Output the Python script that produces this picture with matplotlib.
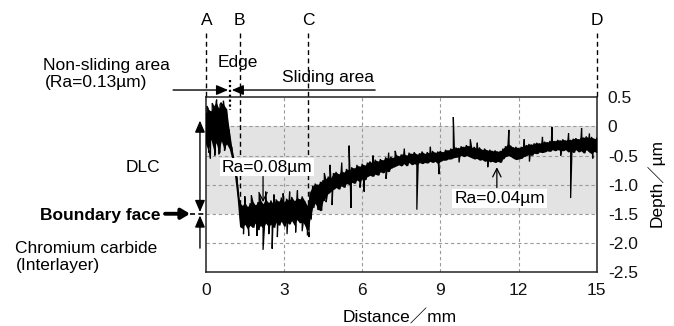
import numpy as np
import matplotlib
matplotlib.use("Agg")
import matplotlib.pyplot as plt

plt.rcParams['font.family'] = ['Liberation Sans', 'Noto Sans CJK JP', 'DejaVu Sans']
FS = 12.5

# ---------------- data ----------------
# sampling positions of the profile envelope, mm
dist_mm = np.round(np.arange(0, 15.0001, 0.1), 1)

# upper edge of the measured profile band, um
upper_um = [
    0.22, 0.30, 0.26, 0.35, 0.42, 0.31, 0.41, 0.37, 0.30, -0.05,
    -0.35, -0.60, -0.88, -1.30, -1.36, -1.30, -1.38, -1.32, -1.28, -1.35,
    -1.30, -1.26, -1.33, -1.24, -1.31, -1.27, -1.34, -1.25, -1.29, -1.22,
    -1.30, -1.24, -1.27, -1.21, -1.28, -1.22, -1.25, -1.20, -1.28, -1.36,
    -1.12, -1.02, -0.98, -1.00, -0.95, -0.92, -0.90, -0.86, -0.88, -0.80,
    -0.78, -0.82, -0.76, -0.79, -0.73, -0.75, -0.70, -0.72, -0.66, -0.69,
    -0.64, -0.67, -0.62, -0.60, -0.63, -0.57, -0.60, -0.56, -0.58, -0.53,
    -0.55, -0.52, -0.54, -0.48, -0.51, -0.48, -0.46, -0.50, -0.45, -0.47,
    -0.44, -0.48, -0.46, -0.43, -0.47, -0.44, -0.46, -0.42, -0.45, -0.43,
    -0.42, -0.44, -0.40, -0.41, -0.38, -0.38, -0.36, -0.37, -0.34, -0.35,
    -0.32, -0.34, -0.36, -0.35, -0.38, -0.36, -0.40, -0.38, -0.41, -0.40,
    -0.42, -0.41, -0.43, -0.42, -0.38, -0.34, -0.30, -0.33, -0.36, -0.35,
    -0.37, -0.35, -0.33, -0.32, -0.30, -0.31, -0.29, -0.28, -0.29, -0.27,
    -0.26, -0.27, -0.25, -0.24, -0.25, -0.23, -0.24, -0.22, -0.24, -0.22,
    -0.23, -0.21, -0.20, -0.22, -0.18, -0.19, -0.17, -0.20, -0.18, -0.21,
    -0.20,
]
# lower edge of the measured profile band, um
lower_um = [
    -0.30, -0.42, -0.22, -0.40, -0.28, -0.44, -0.25, -0.38, -0.30, -0.38,
    -0.55, -0.82, -1.20, -1.72, -1.75, -1.68, -1.76, -1.70, -1.74, -1.66,
    -1.78, -1.70, -1.75, -1.66, -1.72, -1.68, -1.74, -1.65, -1.70, -1.63,
    -1.72, -1.64, -1.68, -1.62, -1.70, -1.60, -1.66, -1.62, -1.70, -1.82,
    -1.60, -1.40, -1.32, -1.42, -1.45, -1.28, -1.22, -1.15, -1.12, -1.08,
    -1.05, -1.08, -1.02, -1.05, -0.98, -1.00, -0.96, -0.98, -0.92, -0.95,
    -0.90, -0.92, -0.86, -0.84, -0.86, -0.82, -0.84, -0.78, -0.80, -0.76,
    -0.78, -0.72, -0.70, -0.68, -0.66, -0.68, -0.64, -0.68, -0.62, -0.66,
    -0.64, -0.66, -0.62, -0.64, -0.62, -0.63, -0.60, -0.62, -0.60, -0.64,
    -0.60, -0.58, -0.58, -0.56, -0.56, -0.54, -0.53, -0.52, -0.50, -0.52,
    -0.50, -0.52, -0.54, -0.56, -0.55, -0.58, -0.57, -0.60, -0.58, -0.61,
    -0.60, -0.62, -0.60, -0.62, -0.56, -0.52, -0.50, -0.52, -0.55, -0.57,
    -0.56, -0.55, -0.52, -0.50, -0.48, -0.50, -0.46, -0.47, -0.44, -0.45,
    -0.44, -0.42, -0.43, -0.40, -0.42, -0.40, -0.41, -0.42, -0.40, -0.44,
    -0.42, -0.45, -0.40, -0.44, -0.42, -0.46, -0.40, -0.44, -0.47, -0.43,
    -0.45,
]

# isolated spikes of the profile: position (mm) and tip depth (um)
spike_mm = [0.18, 0.35, 1.97, 2.20, 2.30, 2.55, 2.97, 3.70, 3.90, 3.96,
            4.30, 4.77, 4.85, 5.50, 5.57, 6.08, 7.27, 8.10, 8.95, 9.50,
            10.15, 11.63, 13.28, 14.00, 14.42,
            0.05, 0.25, 0.42, 0.55, 0.68, 0.12, 0.50, 0.72,
            1.50, 1.75, 2.05, 2.62, 3.22, 3.52, 1.45, 1.65, 2.42, 2.75, 3.12, 3.45,
            4.55, 5.22, 6.42, 7.02, 7.62, 8.62, 10.42, 12.22, 12.92, 13.92, 14.72,
            4.62, 5.92, 6.92, 9.72, 10.82, 12.42, 13.62, 14.85]
spike_um = [-0.55, -0.50, -1.88, -2.12, -1.12, -2.10, -1.15, -1.80, -1.87, -1.90,
            -1.43, -0.66, -1.35, -0.33, -1.40, -1.12, -0.42, -1.43, -0.82, 0.16,
            -0.22, -0.06, -0.01, -1.23, -0.03,
            0.35, 0.40, 0.46, 0.38, 0.44, -0.45, -0.48, -0.42,
            -1.20, -1.18, -1.15, -1.17, -1.12, -1.10, -1.85, -1.88, -1.85, -1.90, -1.85, -1.82,
            -0.80, -0.62, -0.50, -0.45, -0.38, -0.35, -0.28, -0.22, -0.18, -0.12, -0.12,
            -1.30, -1.05, -0.90, -0.62, -0.70, -0.60, -0.50, -0.55]

x_ticks = [0, 3, 6, 9, 12, 15]
y_ticks = [0.5, 0, -0.5, -1.0, -1.5, -2.0, -2.5]
y_tick_labels = ['0.5', '0', '-0.5', '-1.0', '-1.5', '-2.0', '-2.5']

marker_names = ['A', 'B', 'C', 'D']
marker_mm = [0.0, 1.3, 3.93, 15.0]
marker_end_um = [0.5, -1.47, -1.86, 0.5]

edge_mm = 0.94
dlc_top_um = 0.1
boundary_um = -1.5
interlayer_bottom_um = -2.09
dlc_band = (0.0, -1.5)

# ---------------- figure ----------------
W, H = 674, 326
fig = plt.figure(figsize=(W / 100, H / 100), dpi=100)
x0, x1, y0, y1 = 205.7, 596.7, 97.3, 272.0
ax = fig.add_axes([x0 / W, 1 - y1 / H, (x1 - x0) / W, (y1 - y0) / H])
ax.set_xlim(0, 15)
ax.set_ylim(-2.5, 0.5)


def fpx(x, y):
    return x / W, 1 - y / H


# gray DLC band
ax.axhspan(dlc_band[1], dlc_band[0], color='#e3e3e3', zorder=0, lw=0)

# grid
for gx in x_ticks[1:-1]:
    ax.axvline(gx, color='#9a9a9a', lw=0.8, ls=(0, (3, 2.5)), zorder=1)
for gy in y_ticks[1:-1]:
    ax.axhline(gy, color='#9a9a9a', lw=0.8, ls=(0, (3, 2.5)), zorder=1)

# profile trace: solid band between envelopes, zig-zag edges and spikes
ax.fill_between(dist_mm, lower_um, upper_um, color='black', lw=0, zorder=3)
pts = []
for d, u, l in zip(dist_mm, upper_um, lower_um):
    pts.append((d, u))
    pts.append((d + 0.05, l))
for sx, sy in zip(spike_mm, spike_um):
    pts.append((sx, sy))
pts.sort(key=lambda p: p[0])
tx = [p[0] for p in pts if p[0] <= 15]
ty = [p[1] for p in pts if p[0] <= 15]
ax.plot(tx, ty, color='black', lw=0.9, zorder=3, solid_joinstyle='miter')

# axes styling
for s in ax.spines.values():
    s.set_color('#222222')
    s.set_linewidth(1.1)
ax.set_xticks(x_ticks)
ax.set_xticklabels([str(t) for t in x_ticks], fontsize=FS)
ax.yaxis.tick_right()
ax.set_yticks(y_ticks)
ax.set_yticklabels(y_tick_labels, fontsize=FS)
ax.tick_params(axis='both', length=0, colors='#111111')
ax.tick_params(axis='x', pad=8)
ax.tick_params(axis='y', pad=8)

fig.text(*fpx(400, 322), 'Distance／mm', fontsize=FS, ha='center', va='baseline')
fig.text(*fpx(656, 183), 'Depth／µm', fontsize=FS, ha='center', va='center', rotation=90)

# A-D vertical dashed markers
for name, mx, me in zip(marker_names, marker_mm, marker_end_um):
    ax.plot([mx, mx], [1.6, me], color='black', lw=1.0, ls=(0, (3.5, 2.5)),
            clip_on=False, zorder=4)
    xp = x0 + mx * (x1 - x0) / 15
    fig.text(*fpx(xp + (1.5 if name == 'A' else 0), 25), name, fontsize=FS,
             ha='center', va='baseline')

# edge dotted line
ax.plot([edge_mm, edge_mm], [0.8, 0.28], color='black', lw=1.6, ls=(0, (1, 1.2)),
        clip_on=False, zorder=5)

# horizontal arrows: non-sliding  ->|<-  sliding
ay = 0.625
ax.annotate('', xy=(0.86, ay), xytext=(-1.25, ay), annotation_clip=False,
            arrowprops=dict(arrowstyle='-|>,head_length=0.7,head_width=0.3',
                            color='black', lw=1.0, shrinkA=0, shrinkB=0))
ax.annotate('', xy=(1.0, ay), xytext=(6.5, ay), annotation_clip=False,
            arrowprops=dict(arrowstyle='-|>,head_length=0.7,head_width=0.3',
                            color='black', lw=1.0, shrinkA=0, shrinkB=0))

# DLC thickness arrows on the left
lx = -0.22
ax.annotate('', xy=(lx, dlc_top_um), xytext=(lx, boundary_um + 0.03), annotation_clip=False,
            arrowprops=dict(arrowstyle='<|-|>,head_length=0.7,head_width=0.3',
                            color='black', lw=1.0, shrinkA=0, shrinkB=0))
ax.annotate('', xy=(lx, boundary_um - 0.03), xytext=(lx, interlayer_bottom_um),
            annotation_clip=False,
            arrowprops=dict(arrowstyle='-|>,head_length=0.7,head_width=0.3',
                            color='black', lw=1.0, shrinkA=0, shrinkB=0))
ax.plot([-0.6, 0], [boundary_um, boundary_um], color='black', lw=1.2,
        ls=(0, (3, 2)), clip_on=False, zorder=4)

# bold boundary face arrow
ax.annotate('', xy=(-0.6, boundary_um), xytext=(-1.56, boundary_um), annotation_clip=False,
            arrowprops=dict(arrowstyle='-|>,head_length=0.5,head_width=0.3',
                            color='black', lw=2.8, shrinkA=0, shrinkB=0))

# text labels
fig.text(*fpx(43, 70), 'Non-sliding area', fontsize=FS, ha='left', va='baseline')
fig.text(*fpx(45, 87), '(Ra=0.13µm)', fontsize=FS, ha='left', va='baseline')
fig.text(*fpx(218, 67), 'Edge', fontsize=FS, ha='left', va='baseline')
fig.text(*fpx(282, 82), 'Sliding area', fontsize=FS, ha='left', va='baseline')
fig.text(*fpx(160, 172), 'DLC', fontsize=FS, ha='right', va='baseline')
fig.text(*fpx(160, 220), 'Boundary face', fontsize=FS, ha='right', va='baseline',
         fontweight='bold')
fig.text(*fpx(15, 253), 'Chromium carbide', fontsize=FS, ha='left', va='baseline')
fig.text(*fpx(16, 270), '(Interlayer)', fontsize=FS, ha='left', va='baseline')

# Ra annotations inside the plot
ax.text(2.35, -0.70, 'Ra=0.08µm', fontsize=FS, ha='center', va='center', zorder=6,
        bbox=dict(facecolor='white', edgecolor='none', pad=1.2))
ax.annotate('', xy=(2.2, -1.30), xytext=(2.2, -0.86),
            arrowprops=dict(arrowstyle='->,head_length=0.6,head_width=0.3',
                            color='black', lw=0.9, shrinkA=0, shrinkB=0), zorder=6)
ax.text(11.27, -1.235, 'Ra=0.04µm', fontsize=FS, ha='center', va='center', zorder=6,
        bbox=dict(facecolor='white', edgecolor='none', pad=1.5))
ax.annotate('', xy=(11.17, -0.70), xytext=(11.17, -1.05),
            arrowprops=dict(arrowstyle='->,head_length=0.6,head_width=0.3',
                            color='black', lw=0.9, shrinkA=0, shrinkB=0), zorder=6)

fig.savefig('out.png', dpi=100)
